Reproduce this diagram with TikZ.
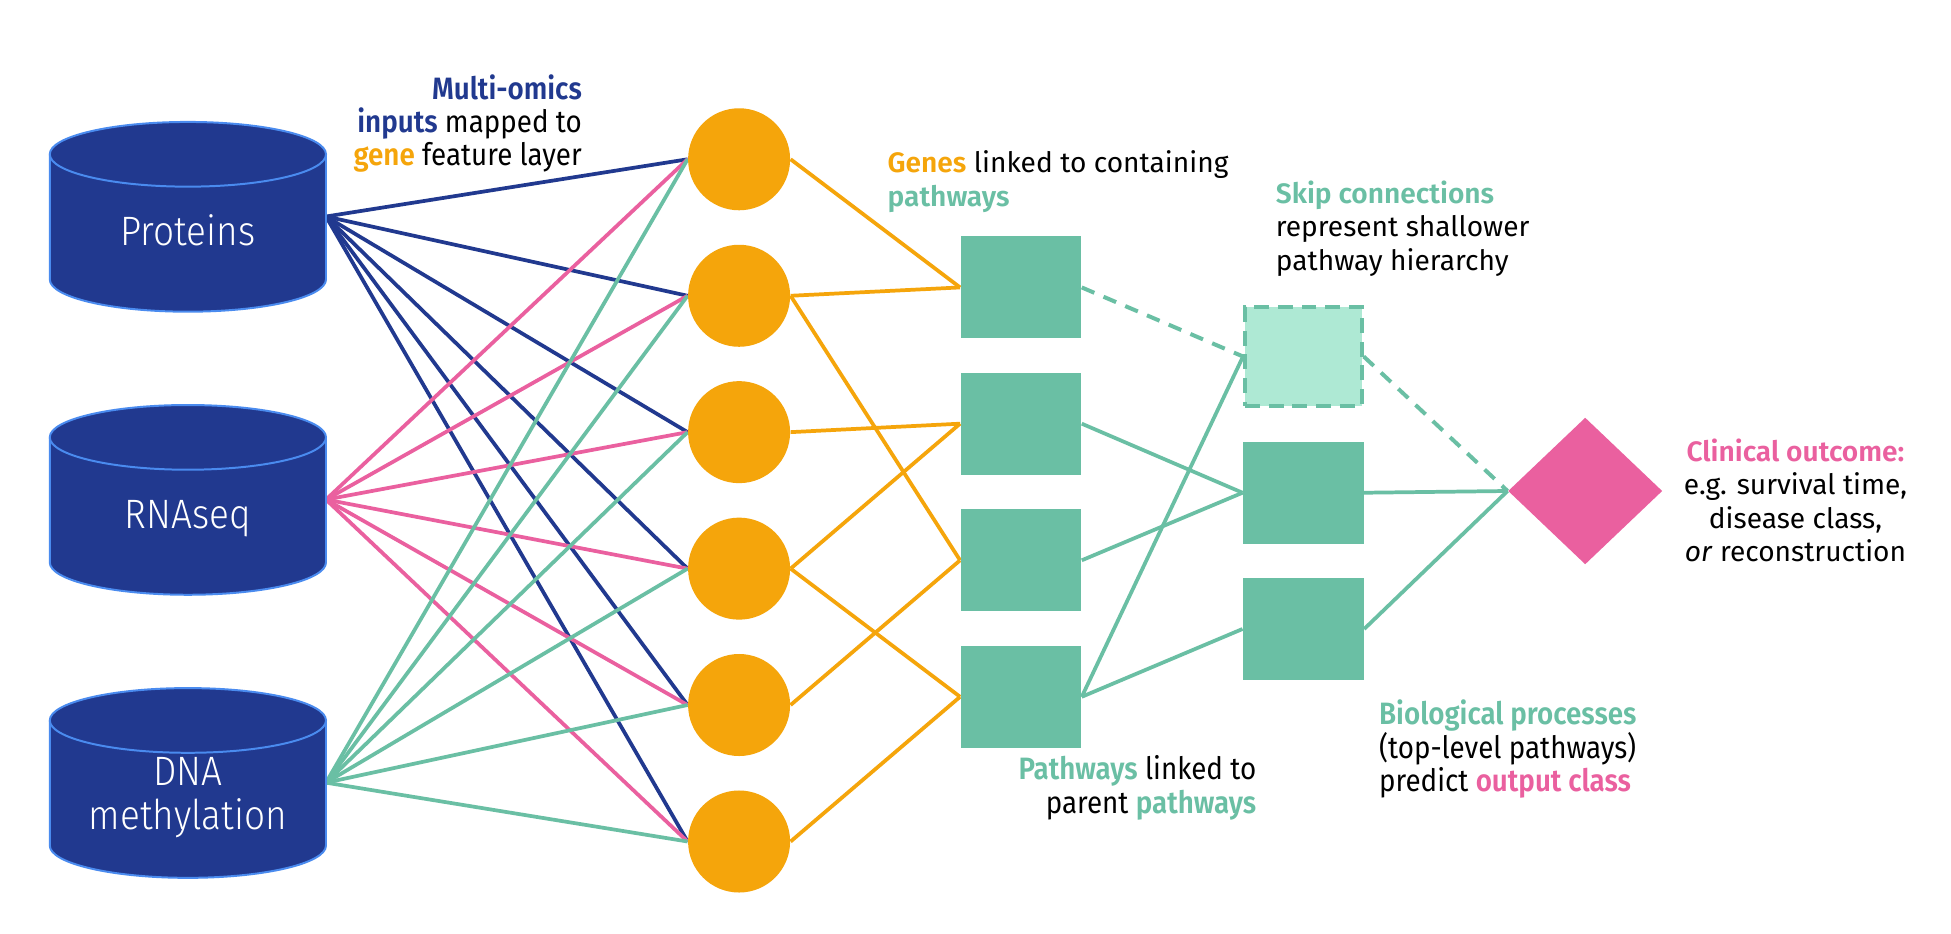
\documentclass[tikz,border=0pt]{standalone}
\usepackage{fontspec}
\setmainfont{Fira Sans}[BoldFont={Fira Sans SemiBold}]
\newfontfamily\condfont{Fira Sans}[FakeStretch=0.9,BoldFont={Fira Sans SemiBold}]
\newfontfamily\lightfont{Fira Sans Light}[FakeStretch=0.9]
\usetikzlibrary{shapes.geometric,backgrounds}
\definecolor{dblue}{HTML}{21398F}
\definecolor{cylborder}{HTML}{4A8BEF}
\definecolor{gorange}{HTML}{F5A50B}
\definecolor{opink}{HTML}{EA609F}
\definecolor{pteal}{HTML}{6ABFA4}
\definecolor{lteal}{HTML}{AEE9D4}
\newcommand{\drawomicscyl}[1]{%
  \fill[dblue] (40,#1+26) -- (40,#1+126.5) arc[start angle=180,end angle=0,x radius=111,y radius=26] -- (262,#1+26) -- cycle;
  \fill[dblue] (151,#1+26) ellipse[x radius=111,y radius=26];
  \draw[cylborder,line width=0.8pt] (40,#1+26) -- (40,#1+126.5) arc[start angle=180,end angle=0,x radius=111,y radius=26] -- (262,#1+26);
  \draw[cylborder,line width=0.8pt] (151,#1+26) ellipse[x radius=111,y radius=26];
}
\begin{document}
\begin{tikzpicture}[x=0.5pt,y=-0.5pt,
  gene/.style={circle,fill=gorange,draw=none,inner sep=0pt,minimum size=41pt},
  pathbox/.style={rectangle,fill=pteal,draw=none,inner sep=0pt,minimum width=48.5pt,minimum height=41pt},
  skipbox/.style={rectangle,fill=lteal,draw=pteal,line width=1.6pt,dash pattern=on 6pt off 3.5pt,inner sep=0pt,minimum width=46.9pt,minimum height=39.4pt},
  outcome/.style={diamond,fill=opink,draw=none,inner sep=0pt,minimum width=62pt,minimum height=59pt},
  bl/.style={dblue,line width=1.5pt},
  pk/.style={opink,line width=1.5pt},
  tl/.style={pteal,line width=1.5pt},
  og/.style={gorange,line width=1.5pt},
  skipline/.style={pteal,line width=1.6pt,dash pattern=on 5.5pt off 4pt},
  cyllabel/.style={text=white,font=\lightfont\fontsize{16.5}{17.6}\selectfont,align=center,inner sep=0pt},
  lbl/.style={inner sep=0pt,font=\fontsize{11.3}{13.4}\selectfont},
  clbl/.style={inner sep=0pt,font=\condfont\fontsize{12.4}{13.4}\selectfont},
]
\useasboundingbox (0,0) rectangle (1568,750.6);

% cylinders
\drawomicscyl{98}
\drawomicscyl{325.5}
\drawomicscyl{553}
\node[cyllabel,anchor=base] (prot) at (151,197.5) {Proteins};
\node[cyllabel,anchor=base] (rna) at (151,425) {RNAseq};
\node[cyllabel,anchor=base] (dna) at (151,666.8) {DNA\\methylation};
\coordinate (protR) at (262,174);
\coordinate (rnaR) at (262,401.5);
\coordinate (dnaR) at (262,629);

% gene layer
\node[gene] (g1) at (594,128) {};
\node[gene] (g2) at (594,237.7) {};
\node[gene] (g3) at (594,347.3) {};
\node[gene] (g4) at (594,457) {};
\node[gene] (g5) at (594,566.6) {};
\node[gene] (g6) at (594,676.3) {};

% pathway layer
\node[pathbox] (p1) at (820.5,231) {};
\node[pathbox] (p2) at (820.5,340.5) {};
\node[pathbox] (p3) at (820.5,450.3) {};
\node[pathbox] (p4) at (820.5,560) {};

% top-level layer
\node[skipbox] (d) at (1047.5,286.5) {};
\node[pathbox] (m) at (1047.5,396) {};
\node[pathbox] (b3) at (1047.5,505.5) {};

% outcome
\node[outcome] (out) at (1274,394.6) {};

\begin{scope}[on background layer]
  \fill[white] (0,0) rectangle (1568,750.6);
  \foreach \g in {g1,g2,g3,g4,g5,g6} {\draw[bl] (protR) -- (\g.west);}
  \foreach \g in {g1,g2,g3,g4,g5,g6} {\draw[pk] (rnaR) -- (\g.west);}
  \foreach \g in {g1,g2,g3,g4,g5,g6} {\draw[tl] (dnaR) -- (\g.west);}
  \draw[og] (g1.east) -- (p1.west);
  \draw[og] (g2.east) -- (p1.west);
  \draw[og] (g2.east) -- (p3.west);
  \draw[og] (g3.east) -- (p2.west);
  \draw[og] (g4.east) -- (p2.west);
  \draw[og] (g4.east) -- (p4.west);
  \draw[og] (g5.east) -- (p3.west);
  \draw[og] (g6.east) -- (p4.west);
  \draw[skipline] (p1.east) -- (d.west);
  \draw[tl] (p2.east) -- (m.west);
  \draw[tl] (p3.east) -- (m.west);
  \draw[tl] (p4.east) -- (d.west);
  \draw[tl] (p4.east) -- (b3.west);
  \draw[skipline] (d.east) -- (out.west);
  \draw[tl] (m.east) -- (out.west);
  \draw[tl] (b3.east) -- (out.west);
\end{scope}

% labels (base anchor = baseline of the last line)
\node[clbl,align=right,anchor=base east] (inlbl) at (468,133.4)
  {\textcolor{dblue}{\bfseries Multi-omics}\\\textcolor{dblue}{\bfseries inputs} mapped to\\\textcolor{gorange}{\bfseries gene} feature layer};
\node[lbl,align=left,anchor=base west] (genelbl) at (713,165.6)
  {\textcolor{gorange}{\bfseries Genes} linked to containing\\\textcolor{pteal}{\bfseries pathways}};
\node[lbl,align=left,anchor=base west] (skiplbl) at (1025,217)
  {\textcolor{pteal}{\bfseries Skip connections}\\represent shallower\\pathway hierarchy};
\node[lbl,align=center,anchor=base] (outlbl) at (1443,451.4)
  {\textcolor{opink}{\bfseries Clinical outcome:}\\e.g. survival time,\\disease class,\\\textit{or} reconstruction};
\node[clbl,align=right,anchor=base east] (pathlbl) at (1010,653.5)
  {\textcolor{pteal}{\bfseries Pathways} linked to\\parent \textcolor{pteal}{\bfseries pathways}};
\node[clbl,align=left,anchor=base west] (biolbl) at (1108,636)
  {\textcolor{pteal}{\bfseries Biological processes}\\(top-level pathways)\\predict \textcolor{opink}{\bfseries output class}};
\end{tikzpicture}
\end{document}
